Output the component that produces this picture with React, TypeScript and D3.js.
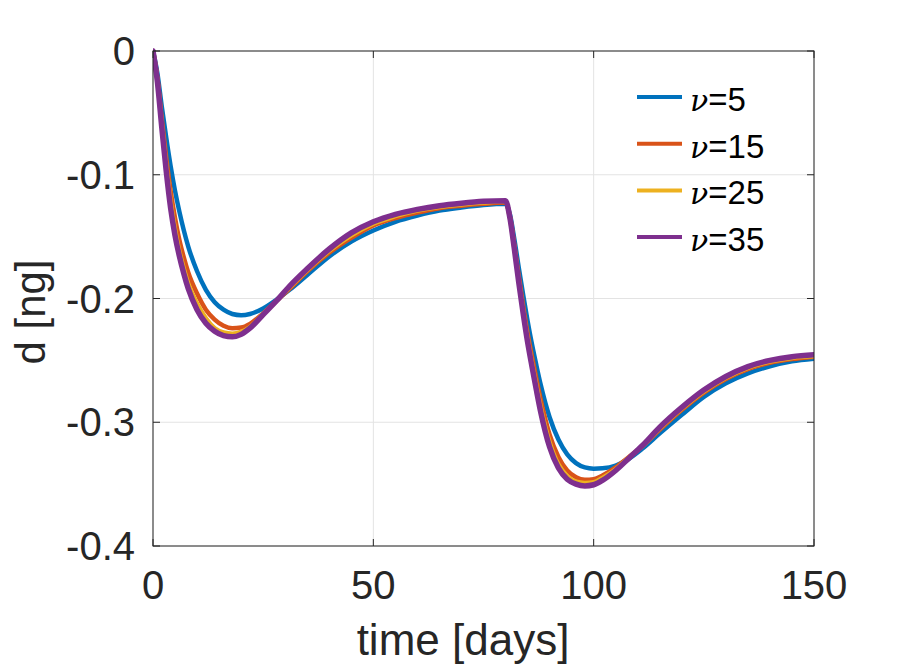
import React from "react";
import * as d3 from "d3";

const times = [0,1,2,3,4,5,6,7,8,10,12,14,16,18,20,22,25,28,31,35,40,45,50,55,60,65,70,75,80,
  81,82,83,84,85,86,87,88,90,92,94,96,98,100,102,105,108,111,115,120,125,130,135,140,145,150];

const nu5 = [0,-0.018,-0.045,-0.07,-0.093,-0.113,-0.13,-0.145,-0.158,-0.178,-0.193,-0.203,-0.209,-0.2125,-0.2135,-0.2125,-0.208,-0.201,-0.193,-0.181,-0.166,-0.154,-0.145,-0.138,-0.133,-0.129,-0.1265,-0.1245,-0.1235,
  -0.132,-0.152,-0.175,-0.197,-0.218,-0.237,-0.254,-0.27,-0.296,-0.314,-0.326,-0.333,-0.3365,-0.3375,-0.3372,-0.335,-0.3295,-0.3215,-0.309,-0.294,-0.2795,-0.2685,-0.2605,-0.2548,-0.2508,-0.2487];

const nu15 = [0,-0.022,-0.055,-0.086,-0.113,-0.135,-0.153,-0.167,-0.179,-0.196,-0.209,-0.217,-0.222,-0.224,-0.2235,-0.2205,-0.212,-0.202,-0.192,-0.178,-0.163,-0.151,-0.141,-0.135,-0.1305,-0.127,-0.125,-0.1235,-0.1225,
  -0.134,-0.157,-0.182,-0.206,-0.228,-0.247,-0.265,-0.282,-0.31,-0.328,-0.339,-0.3445,-0.3465,-0.346,-0.343,-0.3365,-0.328,-0.3195,-0.306,-0.29,-0.276,-0.265,-0.257,-0.252,-0.249,-0.247];

const nu25 = [0,-0.024,-0.059,-0.092,-0.121,-0.144,-0.162,-0.176,-0.188,-0.204,-0.216,-0.224,-0.2275,-0.2285,-0.227,-0.223,-0.2125,-0.202,-0.191,-0.177,-0.1615,-0.149,-0.1395,-0.1335,-0.129,-0.126,-0.124,-0.1225,-0.1215,
  -0.135,-0.159,-0.185,-0.21,-0.232,-0.252,-0.27,-0.288,-0.316,-0.334,-0.3435,-0.348,-0.349,-0.3485,-0.345,-0.338,-0.3285,-0.3195,-0.305,-0.289,-0.275,-0.264,-0.256,-0.251,-0.248,-0.2465];

const nu35 = [0,-0.025,-0.062,-0.097,-0.127,-0.149,-0.166,-0.18,-0.192,-0.209,-0.22,-0.2265,-0.23,-0.231,-0.229,-0.224,-0.213,-0.202,-0.19,-0.176,-0.16,-0.147,-0.138,-0.132,-0.128,-0.125,-0.123,-0.1215,-0.121,
  -0.135,-0.16,-0.187,-0.212,-0.235,-0.255,-0.274,-0.292,-0.32,-0.337,-0.346,-0.35,-0.3515,-0.3505,-0.347,-0.339,-0.329,-0.319,-0.304,-0.288,-0.274,-0.263,-0.255,-0.25,-0.247,-0.2455];

const seriesLabels = ["5", "15", "25", "35"];
const seriesValues = [nu5, nu15, nu25, nu35];
const colors = ["#0072BD", "#D95319", "#EDB120", "#7E2F8E"];
const widths = [4.5, 4.5, 4.5, 5.5];

const xTicks = [0, 50, 100, 150];
const yTicks = [0, -0.1, -0.2, -0.3, -0.4];
const yTickLabels = ["0", "-0.1", "-0.2", "-0.3", "-0.4"];

const L = 153, R = 814, T = 51, B = 546;
const axisColor = "#262626";
const font = "'Liberation Sans', Arial, Helvetica, sans-serif";

export default function App() {
  const x = d3.scaleLinear().domain([0, 150]).range([L, R]);
  const y = d3.scaleLinear().domain([-0.4, 0]).range([B, T]);
  const line = d3.line<number>()
    .x((_, i) => x(times[i]))
    .y((d) => y(d))
    .curve(d3.curveMonotoneX);
  const tl = 7;

  return (
    <svg width={900} height={667} style={{ position: "absolute", left: 0, top: 0, background: "#fff" }}
      fontFamily={font}>
      <rect x={0} y={0} width={900} height={667} fill="#fff" />
      {xTicks.map((t) => (
        <line key={"gx" + t} x1={x(t)} x2={x(t)} y1={T} y2={B} stroke="#e3e3e3" strokeWidth={1} />
      ))}
      {yTicks.map((t) => (
        <line key={"gy" + t} x1={L} x2={R} y1={y(t)} y2={y(t)} stroke="#e3e3e3" strokeWidth={1} />
      ))}
      <defs>
        <clipPath id="plotclip">
          <rect x={L} y={T - 3} width={R - L} height={B - T + 3} />
        </clipPath>
      </defs>
      <g clipPath="url(#plotclip)">
        {seriesValues.map((vals, i) => (
          <path key={"s" + i} d={line(vals) || ""} fill="none" stroke={colors[i]}
            strokeWidth={widths[i]} strokeLinejoin="round" strokeLinecap="round" />
        ))}
      </g>
      <rect x={L} y={T} width={R - L} height={B - T} fill="none" stroke={axisColor} strokeWidth={1} />
      {xTicks.map((t) => (
        <g key={"tx" + t}>
          <line x1={x(t)} x2={x(t)} y1={B} y2={B - tl} stroke={axisColor} />
          <line x1={x(t)} x2={x(t)} y1={T} y2={T + tl} stroke={axisColor} />
          <text x={x(t)} y={599} textAnchor="middle" fontSize={40} fill={axisColor}>{t}</text>
        </g>
      ))}
      {yTicks.map((t, i) => (
        <g key={"ty" + t}>
          <line x1={L} x2={L + tl} y1={y(t)} y2={y(t)} stroke={axisColor} />
          <line x1={R} x2={R - tl} y1={y(t)} y2={y(t)} stroke={axisColor} />
          <text x={135} y={y(t) + 14} textAnchor="end" fontSize={40} fill={axisColor}>{yTickLabels[i]}</text>
        </g>
      ))}
      <text x={463} y={655} textAnchor="middle" fontSize={44} fill={axisColor}>time [days]</text>
      <text transform={`translate(45, 312) rotate(-90)`} textAnchor="middle" fontSize={42} fill={axisColor}>d [ng]</text>
      {seriesLabels.map((lab, i) => {
        const ly = 97 + i * 46.7;
        return (
          <g key={"lg" + i}>
            <line x1={637} x2={682} y1={ly} y2={ly} stroke={colors[i]} strokeWidth={4} />
            <text x={690} y={ly + 14} fontSize={33} fill="#000">
              <tspan fontFamily="'DejaVu Serif', 'Liberation Serif', serif" fontStyle="italic" fontSize={30}>ν</tspan>
              <tspan>={lab}</tspan>
            </text>
          </g>
        );
      })}
    </svg>
  );
}
